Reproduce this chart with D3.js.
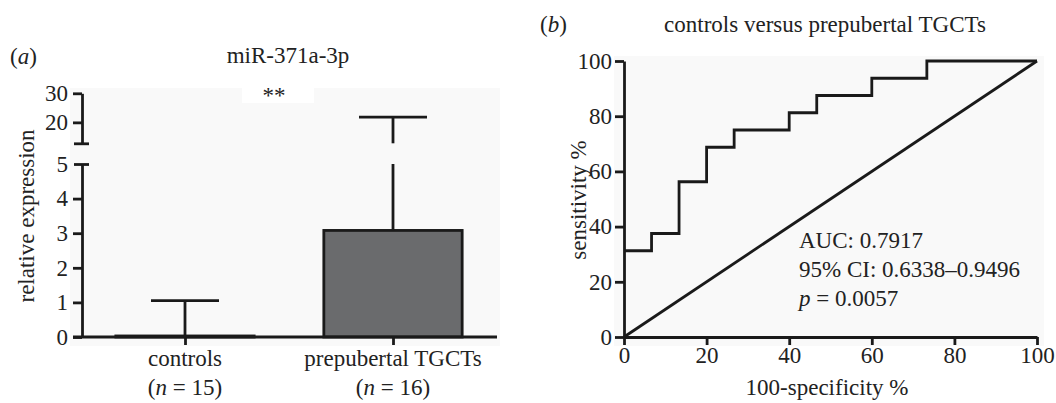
<!DOCTYPE html>
<html><head><meta charset="utf-8">
<script src="https://cdn.jsdelivr.net/npm/d3@7"></script>
<style>body{margin:0;background:#fff}svg{display:block}text{font-family:"Liberation Serif","DejaVu Serif",serif;fill:#222}</style>
</head><body>
<svg id="c" width="1056" height="403"></svg>
<script>
// ---- data ----
const categories = ["controls", "prepubertal TGCTs"];
const nLabels = ["15", "16"];
const means = [0.03, 3.08];
const upperErr = [1.05, 21.8];
const lowerTicks = [0, 1, 2, 3, 4, 5];
const upperTicks = [20, 30];
const rocX = [0, 6.67, 6.67, 13.33, 13.33, 20, 20, 26.67, 26.67, 40, 40, 46.67, 46.67, 60, 60, 73.33, 73.33, 100];
const rocY = [31.25, 31.25, 37.5, 37.5, 56.25, 56.25, 68.75, 68.75, 75, 75, 81.25, 81.25, 87.5, 87.5, 93.75, 93.75, 100, 100];
const refX = [0, 100];
const refY = [0, 100];
const rocTicks = [0, 20, 40, 60, 80, 100];
const statsLines = ["AUC: 0.7917", "95% CI: 0.6338\u20130.9496", "= 0.0057"];

const svg = d3.select("#c");
const SW = 2.8, INK = "#1a1a1a", FS = 23;

// ---- panel (a) ----
const a = svg.append("g");
const yLo = d3.scaleLinear().domain([0, 5]).range([337, 164]);
const yHi = d3.scaleLinear().domain([12.8, 30]).range([143.3, 93.3]);
const xA = d3.scalePoint().domain(categories).range([81, 497]).padding(0.5);
const bw = xA.step() * 0.665;
const axisX = 82;

a.append("rect").attr("x", 70).attr("y", 88).attr("width", 430).attr("height", 258).attr("fill", "#f9f9f9");
a.append("rect").attr("x", 242).attr("y", 86).attr("width", 72).attr("height", 17).attr("fill", "#fff");

// bars
a.selectAll("rect.bar").data(categories).join("rect")
  .attr("x", d => xA(d) - bw / 2).attr("width", bw)
  .attr("y", (d, i) => yLo(means[i])).attr("height", (d, i) => yLo(0) - yLo(means[i]))
  .attr("fill", "#6a6b6d").attr("stroke", INK).attr("stroke-width", SW);

// error bars
categories.forEach((c, i) => {
  const cx = xA(c), capW = 68, v = upperErr[i];
  const seg = (x1, y1, x2, y2) => a.append("line").attr("x1", x1).attr("y1", y1).attr("x2", x2).attr("y2", y2).attr("stroke", INK).attr("stroke-width", SW);
  if (v <= 5) {
    seg(cx, yLo(means[i]), cx, yLo(v));
    seg(cx - capW / 2, yLo(v), cx + capW / 2, yLo(v));
  } else {
    seg(cx, yLo(means[i]), cx, yLo(5));
    seg(cx, yHi(12.8), cx, yHi(v));
    seg(cx - capW / 2, yHi(v), cx + capW / 2, yHi(v));
  }
});

// y axes (broken)
const gLo = a.append("g").attr("transform", `translate(${axisX},0)`)
  .call(d3.axisLeft(yLo).tickValues(lowerTicks).tickSize(9).tickSizeOuter(0).tickPadding(5).tickFormat(d3.format("d")));
const gHi = a.append("g").attr("transform", `translate(${axisX},0)`)
  .call(d3.axisLeft(yHi).tickValues([12.8].concat(upperTicks)).tickSize(9).tickSizeOuter(0).tickPadding(5).tickFormat(d => d === 12.8 ? "" : d3.format("d")(d)));
gHi.selectAll(".tick").filter(d => d === 12.8).select("line").attr("x1", 7).attr("x2", -8);
gLo.selectAll(".tick").filter(d => d === 5).select("line").attr("x1", 7).attr("x2", -8);
[gLo, gHi].forEach(g => {
  g.select(".domain").attr("stroke", INK).attr("stroke-width", SW);
  g.selectAll(".tick line").attr("stroke", INK).attr("stroke-width", SW);
  g.selectAll(".tick text").attr("font-size", FS).style("font-family", "Liberation Serif").attr("fill", "#222");
});
// x axis for (a)
const gxa = a.append("g").attr("transform", `translate(0,${yLo(0)})`)
  .call(d3.axisBottom(xA).tickSize(8).tickSizeOuter(0).tickFormat(""));
gxa.select(".domain").attr("d", `M${axisX - 9},0H497`).attr("stroke", INK).attr("stroke-width", SW);
gxa.selectAll(".tick line").attr("stroke", INK).attr("stroke-width", SW);

categories.forEach((c, i) => {
  a.append("text").attr("x", xA(c)).attr("y", 366).attr("text-anchor", "middle").attr("font-size", FS).text(c);
  const t = a.append("text").attr("x", xA(c)).attr("y", 395).attr("text-anchor", "middle").attr("font-size", FS);
  t.append("tspan").text("(");
  t.append("tspan").attr("font-style", "italic").text("n");
  t.append("tspan").text(" = " + nLabels[i] + ")");
});

a.append("text").attr("transform", "translate(34,216) rotate(-90)").attr("text-anchor", "middle").attr("font-size", FS).text("relative expression");
a.append("text").attr("x", 288).attr("y", 63).attr("text-anchor", "middle").attr("font-size", FS).text("miR-371a-3p");
const la = a.append("text").attr("x", 10).attr("y", 64).attr("font-size", FS);
la.append("tspan").text("("); la.append("tspan").attr("font-style", "italic").text("a"); la.append("tspan").text(")");
a.append("text").attr("x", 274).attr("y", 103).attr("text-anchor", "middle").attr("font-size", FS).text("**");

// ---- panel (b) ----
const b = svg.append("g");
const xB = d3.scaleLinear().domain([0, 100]).range([624, 1037]);
const yB = d3.scaleLinear().domain([0, 100]).range([337, 61]);
b.append("rect").attr("x", 614).attr("y", 56).attr("width", 430).attr("height", 290).attr("fill", "#f9f9f9");

const line = d3.line().x(d => xB(d[0])).y(d => yB(d[1]));
b.append("path").datum(refX.map((x, i) => [x, refY[i]])).attr("d", line).attr("fill", "none").attr("stroke", INK).attr("stroke-width", SW);
b.append("path").datum(rocX.map((x, i) => [x, rocY[i]])).attr("d", line).attr("fill", "none").attr("stroke", INK).attr("stroke-width", SW).attr("stroke-linejoin", "miter");

const gxb = b.append("g").attr("transform", `translate(0,${yB(0)})`)
  .call(d3.axisBottom(xB).tickValues(rocTicks).tickSize(8).tickSizeOuter(0).tickPadding(2));
const gyb = b.append("g").attr("transform", `translate(${xB(0)},0)`)
  .call(d3.axisLeft(yB).tickValues(rocTicks).tickSize(9).tickSizeOuter(0).tickPadding(3));
[gxb, gyb].forEach(g => {
  g.select(".domain").attr("stroke", INK).attr("stroke-width", SW);
  g.selectAll(".tick line").attr("stroke", INK).attr("stroke-width", SW);
  g.selectAll(".tick text").attr("font-size", FS).style("font-family", "Liberation Serif").attr("fill", "#222");
});

b.append("text").attr("x", 827).attr("y", 395).attr("text-anchor", "middle").attr("font-size", FS).text("100-specificity %");
b.append("text").attr("transform", "translate(586,200) rotate(-90)").attr("text-anchor", "middle").attr("font-size", FS).text("sensitivity %");
b.append("text").attr("x", 825).attr("y", 32).attr("text-anchor", "middle").attr("font-size", FS).text("controls versus prepubertal TGCTs");
const lb = b.append("text").attr("x", 540).attr("y", 32).attr("font-size", FS);
lb.append("tspan").text("("); lb.append("tspan").attr("font-style", "italic").text("b"); lb.append("tspan").text(")");

statsLines.forEach((s, i) => {
  const t = b.append("text").attr("x", 799).attr("y", 248 + i * 29).attr("font-size", FS);
  if (i === 2) { t.append("tspan").attr("font-style", "italic").text("p"); t.append("tspan").text(" " + s); }
  else t.text(s);
});
</script>
</body></html>
